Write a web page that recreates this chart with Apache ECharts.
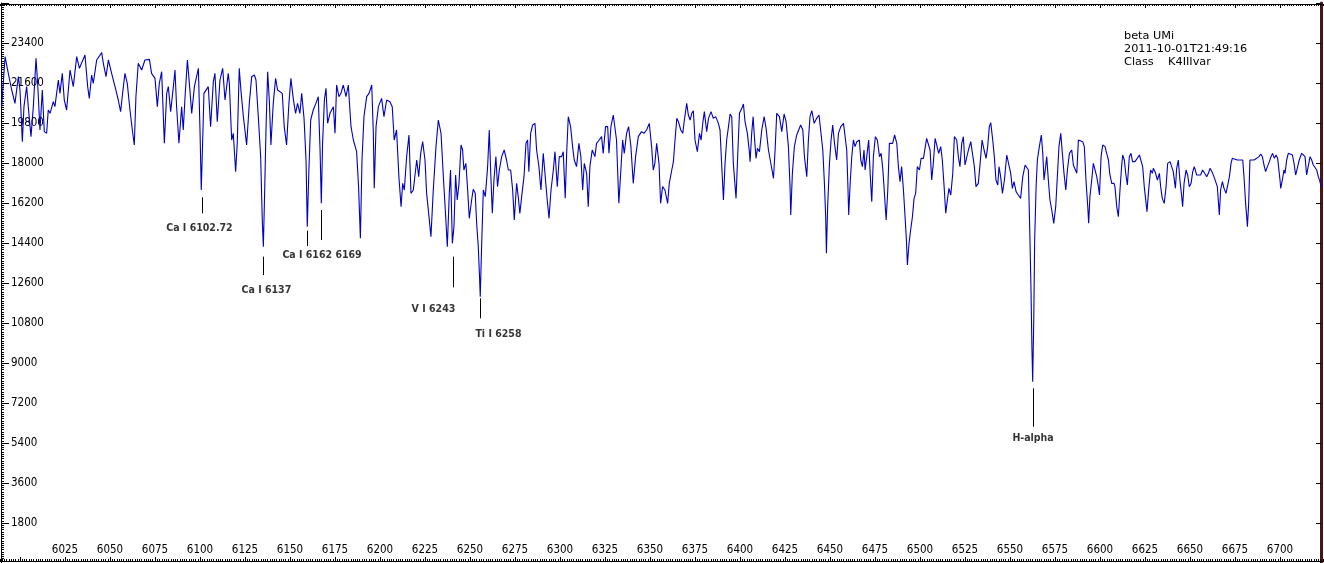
<!DOCTYPE html>
<html>
<head>
<meta charset="utf-8">
<title>beta UMi</title>
<script src="https://cdn.jsdelivr.net/npm/echarts@6/dist/echarts.min.js"></script>
<style>
html, body { margin: 0; padding: 0; background: #fff; }
#chart_box { width: 1324px; height: 563px; }
</style>
</head>
<body>
<div id="chart_box"></div>
<script>
/* wavelength (A), intensity */
var spectrum = [
	[5989.8,20535],[5991.7,22785],[5993.5,22035],[5995.4,21285],[5997.2,20685],[5999.1,21885],[6000.0,21285],[6001.3,18960],
	[6002.2,20535],[6003.7,21435],[6004.6,20535],[6006.1,19185],[6007.4,20535],[6008.9,22710],[6009.8,21585],[6011.1,19485],
	[6012.4,21285],[6013.5,19410],[6014.8,19335],[6015.7,20385],[6016.7,20235],[6018.5,20760],[6019.4,20535],[6021.3,21735],
	[6022.2,21135],[6023.5,22035],[6024.6,20835],[6025.9,20385],[6027.8,22185],[6029.6,21435],[6031.5,22785],[6033.0,22260],
	[6036.1,22860],[6037.6,21435],[6038.5,20910],[6039.8,21960],[6040.7,21585],[6042.6,22635],[6045.4,22965],[6046.3,22485],
	[6047.8,21885],[6049.1,22635],[6050.9,22035],[6052.8,21435],[6054.6,20835],[6055.9,20310],[6057.0,21135],[6058.3,22035],
	[6059.6,21585],[6061.1,20385],[6062.4,19485],[6063.5,18810],[6064.4,20985],[6065.7,22485],[6067.6,22185],[6069.4,22635],
	[6071.9,22665],[6073.1,22035],[6075.0,21810],[6076.3,20535],[6077.4,21585],[6078.7,22110],[6080.2,18885],[6081.5,21135],
	[6082.4,21435],[6083.7,20310],[6085.2,21435],[6086.1,22185],[6087.0,20535],[6088.3,18885],[6089.8,20535],[6090.7,19485],
	[6091.7,20985],[6093.0,22635],[6094.1,21585],[6095.4,20235],[6096.9,21435],[6099.1,22260],[6100.0,19485],[6100.7,16785],
	[6101.5,19035],[6102.2,21135],[6104.6,21435],[6105.9,19635],[6107.4,21660],[6108.3,22035],[6109.6,19860],[6111.1,21735],
	[6112.6,22260],[6113.9,20835],[6115.7,22035],
	[6116.3,21585],[6117.6,19035],[6118.5,19335],[6119.8,17610],[6120.7,18885],[6121.8,22260],[6122.8,21210],[6124.1,20085],
	[6125.9,18810],[6127.4,20685],[6128.7,21885],[6130.2,21960],[6131.1,21735],[6132.4,20085],[6133.7,18285],[6134.6,15435],
	[6135.2,14235],[6135.9,16635],[6136.7,19635],[6137.6,22110],[6138.5,20835],[6139.4,18810],[6140.7,20685],[6142.0,21810],
	[6143.1,21285],[6145.7,21135],[6146.8,19635],[6148.1,18810],[6149.4,20685],[6150.5,21810],[6151.8,20910],[6153.1,20235],
	[6154.2,20685],[6155.5,20235],[6156.5,21135],[6157.8,20010],[6158.9,18135],[6159.6,15135],[6160.5,17685],[6161.5,19935],
	[6162.9,20385],[6164.4,20685],[6165.7,20985],[6166.7,18585],[6167.4,16185],[6168.1,18885],[6169.1,20835],[6170.0,21360],
	[6170.9,19785],[6172.2,20235],[6174.1,20535],[6175.0,19335],[6175.9,21510],[6177.2,20985],[6178.3,21135],[6179.6,21510],
	[6181.1,20985],[6182.4,21510],[6183.9,19635],[6185.2,19035],[6187.0,18510],[6188.1,16935],[6189.1,14610],[6190.0,18135],
	[6191.1,20085],[6192.6,20985],[6193.9,21135],[6195.4,21510],[6196.3,19335],[6196.8,16860],[6197.8,19635],[6199.1,20535],
	[6200.9,20910],[6202.2,20085],[6203.7,20835],[6205.5,20760],[6206.8,20535],[6207.9,19035],[6209.2,19485],[6210.5,17385],
	[6211.7,16035],[6212.6,17085],[6213.5,16785],[6214.8,18285],[6216.1,19260],[6217.2,16635],[6218.5,16785],[6220.4,18135],
	[6221.5,17385],[6222.6,18435],[6223.7,18960],[6225.0,18135],[6225.9,16635],[6227.4,15435],[6228.3,14685],[6229.6,16785],
	[6231.1,18735],[6232.4,19935],[6233.9,19335],[6235.2,17385],[6236.5,15585],[6237.4,14235],[6238.5,16635],
	[6239.2,17685],[6240.2,14385],[6241.1,15135],[6242.0,17460],[6242.9,16335],[6243.9,17085],[6245.0,18810],[6245.9,18585],
	[6246.6,17685],[6247.7,17985],[6248.7,16785],[6249.6,15510],[6250.9,16335],[6251.8,16815],[6252.9,16635],[6253.7,15285],
	[6254.6,14235],[6255.3,12885],[6255.7,11985],[6256.4,14085],[6257.4,16785],[6258.5,16485],[6259.8,17835],[6260.7,19485],
	[6261.6,17385],[6262.4,15735],[6263.3,17235],[6264.4,18285],[6265.3,16935],[6266.3,17685],[6267.6,18285],[6269.0,18585],
	[6270.3,18135],[6271.3,17685],[6272.6,17685],[6273.7,16785],[6274.6,15435],[6275.9,17085],[6276.8,16485],[6277.7,15735],
	[6278.7,16485],[6280.0,17385],[6281.1,18885],[6282.0,19035],[6282.7,17610],[6283.7,19335],[6284.8,19710],[6286.1,19785],
	[6287.0,18585],[6288.3,17835],[6289.4,16785],[6290.7,18435],[6291.8,18435],[6292.9,16335],[6293.9,15510],[6295.0,16785],
	[6296.3,17685],[6297.2,18510],[6298.5,16935],[6299.6,18285],[6300.9,18285],[6301.8,18510],[6302.9,16410],[6303.7,18435],
	[6304.6,20085],[6305.9,19635],[6307.0,18735],[6307.9,18135],[6309.2,17835],[6310.5,18885],[6311.6,18285],[6312.6,16785],
	[6313.5,17985],[6314.8,17535],[6315.7,16035],[6316.6,17835],[6317.9,18585],[6319.4,18285],[6320.3,18885],[6321.8,19035],
	[6323.1,19185],[6324.0,18435],[6325.3,19635],[6326.5,19635],[6327.2,18435],[6328.3,19635],[6329.6,20160],[6330.5,20085],
	[6331.4,19035],[6332.7,16185],[6333.7,17535],[6334.8,19035],[6335.7,18435],[6337.0,19335],[6338.1,19635],[6339.4,18735],
	[6340.7,17085],[6342.0,18285],[6343.5,19185],[6345.3,19410],[6346.6,19335],[6348.1,19485],[6349.6,19785],[6350.9,18735],
	[6351.8,17685],[6352.7,17985],[6353.7,18885],[6355.0,17985],[6355.9,16185],[6357.0,16935],[6358.3,16785],[6359.8,16185],
	[6360.7,17085],
	[6362.1,17685],[6363.0,18060],[6363.9,19035],[6364.9,20010],[6365.8,19860],[6367.1,19485],[6368.2,19335],[6369.1,19935],
	[6370.4,20685],[6371.3,20160],[6372.3,19935],[6373.2,20235],[6374.1,20355],[6375.0,19035],[6376.3,18510],[6377.5,19335],
	[6378.4,19035],[6379.3,19785],[6380.2,20310],[6381.5,19410],[6382.5,20010],[6383.9,20310],[6385.2,20010],[6386.5,20085],
	[6388.0,19785],[6388.9,19485],[6389.7,18135],[6390.8,16335],[6391.7,17985],[6392.6,19035],[6393.6,19635],[6394.5,20205],
	[6395.4,20085],[6396.3,17985],[6397.8,16410],[6398.7,18285],[6399.7,20235],[6401.0,20460],[6401.9,20655],[6402.8,19860],
	[6404.1,19335],[6405.2,18510],[6405.6,18060],[6406.5,19335],[6407.3,20085],[6408.0,19185],[6408.9,18210],[6409.7,18660],
	[6410.8,18510],[6412.1,19485],[6413.4,20085],[6414.5,19560],[6415.8,18585],[6417.3,17910],[6418.6,17310],[6419.5,18585],
	[6420.4,20235],[6421.9,20085],[6423.2,19410],[6424.5,20205],[6425.6,19860],[6426.9,18735],[6427.8,16935],[6428.2,15660],
	[6429.1,17535],[6430.2,18735],[6431.5,19260],[6432.4,19335],[6433.7,19710],[6434.9,19485],[6435.8,18285],[6437.1,17385],
	[6438.0,19035],[6438.9,20085],[6439.9,20355],[6441.2,19785],[6442.6,20010],[6443.9,20160],[6445.0,20235],[6446.0,18585],
	[6446.9,17085],[6447.6,15585],[6448.0,13935],[6448.7,16035],[6449.7,17985],[6450.6,19035],[6451.5,19710],[6452.5,18885],
	[6453.7,18135],[6454.7,19335],[6456.0,19635],[6457.5,19785],[6458.4,19815],[6459.3,18585],[6459.9,17085],[6460.4,15660],
	[6461.2,17085],[6462.1,18285],[6463.0,19035],[6463.9,18735],[6464.9,18960],[6466.3,19035],[6467.1,18135],[6468.0,17835],
	[6468.9,18585],[6469.5,17685],[6470.4,18285],[6471.5,19035],[6472.3,17535],[6473.2,16260],[6474.1,18285],[6475.2,19185],
	[6476.3,19035],[6477.5,18285],[6478.4,18435],[6479.3,17760],[6480.0,16935],[6481.2,15435],[6482.1,16785],[6483.0,18885],
	[6483.9,18960],[6484.8,18885],[6485.9,19260],[6487.1,18885],[6488.0,17835],[6488.9,17160],[6489.8,17835],[6490.8,16785],
	[6491.7,15585],[6492.4,14610],[6493.0,13410],[6493.9,14385],[6494.8,14985],[6495.8,15585],[6496.7,16410],[6497.6,16635],
	[6498.5,17835],[6499.7,17685],[6500.6,18210],[6501.9,18210],[6502.8,18660],[6503.7,19110],[6504.7,19185],[6505.6,18585],
	[6506.5,17235],[6507.4,17985],[6508.4,19110],[6509.3,19110],[6510.4,18435],[6511.5,18735],[6512.4,18135],[6513.4,16935],
	[6514.3,15735],[6515.2,16335],[6516.1,16860],[6517.1,16560],[6518.2,17535],[6519.1,19185],[6520.4,19035],[6521.3,18285],
	[6522.2,17835],[6523.2,18885],[6524.1,19185],[6525.0,17910],[6525.9,17910],[6526.9,18585],[6528.2,18960],[6529.3,18960],
	[6530.2,17835],[6531.1,16935],[6532.4,17085],[6533.4,17985],[6534.5,19035],[6535.6,18585],[6536.7,18210],[6537.6,18735],
	[6538.5,19635],[6539.3,19815],[6540.4,19035],[6541.3,18285],[6542.2,17235],[6543.2,17010],[6543.9,17835],[6544.8,17385],
	[6545.8,16635],[6546.9,17235],[6548.2,18360],[6549.3,18360],[6550.4,17535],[6551.3,16860],[6552.2,17160],[6553.4,16710],
	[6554.6,16560],[6555.9,16410],[6557.1,17385],[6558.4,17910],[6559.3,17985],[6560.2,17685],[6561.1,14535],[6561.7,12135],
	[6562.2,9585],[6562.6,8160],[6563.2,10935],[6563.7,14535],[6564.5,16935],[6565.2,18135],[6566.3,18735],[6567.4,19260],
	[6568.2,18435],[6568.9,17235],[6569.8,17835],[6570.4,18285],[6571.3,17235],[6572.2,16335],[6573.2,15885],[6574.3,15285],
	[6575.4,16035],[6576.3,17385],[6577.2,18735],[6578.2,19335],[6579.1,18435],[6580.0,17535],[6581.0,16785],[6581.9,17685],
	[6583.0,18435],[6584.3,18585],[6585.2,17910],[6586.1,17835],[6587.1,17535],[6588.0,19035],[6588.9,19110],[6590.4,18960],
	[6591.3,18735],[6592.2,17235],[6593.2,16035],[6593.7,15285],[6594.4,16485],[6595.4,17235],[6596.3,17985],[6597.2,18060],
	[6598.2,17385],[6599.1,16935],[6599.7,16560],[6600.6,18285],[6601.5,18810],[6602.8,18735],[6603.7,18435],[6604.7,18135],
	[6605.4,17535],
	[6606.5,17085],[6607.8,17085],[6608.3,16935],[6609.3,16035],[6610.2,15585],[6611.1,16785],[6612.0,17835],[6612.6,18360],
	[6613.5,18135],[6614.3,17535],[6615.2,17010],[6616.3,18285],[6617.2,18435],[6618.1,18060],[6619.4,18060],[6620.7,18210],
	[6621.9,18360],[6622.8,18435],[6623.7,17835],[6624.6,16935],[6625.6,16185],[6626.1,15810],[6627.2,16935],[6628.1,17685],
	[6629.1,17535],[6629.6,17760],[6630.6,17610],[6631.9,17235],[6633.0,17535],[6633.7,16935],[6634.6,16410],[6635.7,16185],
	[6636.7,16935],[6637.6,17985],[6638.9,18060],[6639.8,17985],[6640.7,17610],[6641.9,16860],[6642.6,17760],[6643.5,18135],
	[6644.4,17235],[6645.4,16485],[6645.9,16035],[6646.7,17085],[6647.8,17685],[6648.7,17460],[6649.6,16935],[6650.6,17085],
	[6651.5,17610],[6652.4,17835],[6653.7,17460],[6654.8,17535],[6655.9,17460],[6657.0,17685],[6658.0,17685],[6659.3,17385],
	[6660.2,17535],[6661.1,17760],[6662.2,17610],[6663.3,17385],[6664.4,17310],[6665.2,16935],[6665.9,16110],[6666.3,15660],
	[6667.0,16785],[6668.0,17160],[6668.9,16860],[6670.0,16635],[6670.9,16710],[6671.9,17385],[6672.8,17985],[6673.5,18210],
	[6675.0,18165],[6676.3,18135],[6677.8,18135],[6679.3,18135],[6680.0,17385],[6680.9,16185],[6681.5,15585],[6681.9,15135],
	[6682.6,16185],[6683.3,18135],[6684.3,18060],[6685.6,18135],[6687.0,18210],[6688.3,18285],[6689.3,18405],[6690.2,18285],
	[6691.1,17910],[6692.0,17610],[6693.0,17835],[6694.1,18060],[6695.0,18285],[6695.9,18435],[6696.9,18210],[6697.8,18360],
	[6698.7,18210],[6699.6,18135],[6700.0,17235],[6700.4,16860],[6701.3,17235],[6702.2,17685],[6702.8,17535],[6703.7,18135],
	[6704.6,18435],[6705.6,18480],[6706.9,18360],[6707.8,17985],[6708.7,17460],[6709.6,17760],[6710.7,18135],[6712.0,18435],
	[6713.0,18510],[6713.9,18285],[6714.8,17460],[6715.7,17460],[6716.7,18285],[6717.6,18135],[6718.5,17910],[6719.4,17835],
	[6720.4,17685],[6721.3,17385],[6722.2,17160],[6722.8,16935]
];

/* tick labels */
var xTicks = [6025,6050,6075,6100,6125,6150,6175,6200,6225,6250,6275,6300,6325,6350,6375,6400,6425,6450,6475,6500,6525,6550,6575,6600,6625,6650,6675,6700];
var yTicks = [1800,3600,5400,7200,9000,10800,12600,14400,16200,18000,19800,21600,23400];

/* line identification markers: wavelength, top and bottom of tick */
var markWave = [6101.1, 6135.2, 6159.6, 6167.4, 6240.7, 6255.7, 6562.9];
var markTop = [16455, 13785, 14955, 15885, 13785, 11910, 7860];
var markBottom = [15735, 12960, 14265, 14535, 12405, 11010, 6135];

/* marker labels */
var labelNames = ['Ca I 6102.72', 'Ca I 6137', 'Ca I 6162 6169', 'V I 6243', 'Ti I 6258', 'H-alpha'];
var labelWave = [6099.7, 6136.9, 6167.8, 6229.7, 6265.8, 6562.8];
var labelFlux = [15060, 12285, 13860, 11430, 10305, 5610];

var titleLines = ['beta UMi', '2011-10-01T21:49:16', 'Class    K4IIIvar'];

var axisFont = "'DejaVu Sans Condensed', 'DejaVu Sans', sans-serif";

var myChart = echarts.init(document.getElementById('chart_box'));

var frameX = function(pos, off, showLabel) {
	return {
		type: 'value',
		position: pos,
		offset: off,
		min: 5975,
		max: 6725,
		interval: 25,
		axisLine: { show: true, onZero: false, lineStyle: { color: '#000', width: 1 } },
		axisTick: { show: true, inside: true, length: 4, lineStyle: { color: '#000' } },
		minorTick: { show: true, splitNumber: 20, length: 2, lineStyle: { color: '#000' } },
		splitLine: { show: false },
		minorSplitLine: { show: false },
		axisLabel: {
			show: showLabel,
			inside: true,
			margin: 5,
			color: '#000',
			fontSize: 11.5,
			fontFamily: axisFont,
			formatter: function(v) { return xTicks.indexOf(v) >= 0 ? String(v) : ''; }
		}
	};
};

var option = {
	animation: false,
	backgroundColor: '#fff',
	title: {
		text: titleLines.join('\n'),
		left: 1124,
		top: 30,
		padding: 0,
		textStyle: { fontSize: 11.3, fontWeight: 'normal', lineHeight: 13, color: '#000', fontFamily: "'DejaVu Sans', sans-serif" }
	},
	grid: { left: -25, right: -1, top: 3, bottom: 0, outerBoundsMode: 'none' },
	xAxis: [frameX('bottom', -2, true), frameX('top', -1, false)],
	yAxis: [{
		type: 'value',
		position: 'left',
		offset: -26,
		min: 0,
		max: 25200,
		interval: 1800,
		axisLine: { show: true, onZero: false, lineStyle: { color: '#000', width: 1 } },
		axisTick: { show: true, inside: true, length: 8, lineStyle: { color: '#000' } },
		minorTick: { show: true, splitNumber: 18, length: 3, lineStyle: { color: '#000' } },
		splitLine: { show: false },
		axisLabel: {
			inside: true,
			margin: 10,
			color: '#000',
			fontSize: 11.5,
			fontFamily: axisFont,
			formatter: function(v) { return yTicks.indexOf(v) >= 0 ? String(v) : ''; }
		}
	}, {
		type: 'value',
		position: 'right',
		offset: -4,
		min: 0,
		max: 25200,
		interval: 1800,
		axisLine: { show: true, onZero: false, lineStyle: { color: '#4a1414', width: 3 } },
		axisTick: { show: true, inside: true, length: 5, lineStyle: { color: '#000' } },
		splitLine: { show: false },
		axisLabel: { show: false }
	}],
	series: [{
		name: 'spectrum',
		type: 'line',
		data: spectrum,
		showSymbol: false,
		symbol: 'none',
		silent: true,
		lineStyle: { color: '#0000c0', width: 1.1 },
		markLine: {
			silent: true,
			symbol: ['none', 'none'],
			label: { show: false },
			lineStyle: { color: '#000', width: 1, type: 'solid' },
			data: markWave.map(function(w, i) {
				return [{ coord: [w, markTop[i]] }, { coord: [w, markBottom[i]] }];
			})
		}
	}, {
		name: 'labels',
		type: 'scatter',
		silent: true,
		symbolSize: 1,
		itemStyle: { color: 'rgba(0,0,0,0)' },
		data: labelWave.map(function(w, i) { return [w, labelFlux[i]]; }),
		label: {
			show: true,
			position: 'inside',
			color: '#000',
			fontSize: 10.5,
			fontWeight: 'bold',
			fontFamily: axisFont,
			formatter: function(p) { return labelNames[p.dataIndex]; }
		}
	}]
};
myChart.setOption(option);
</script>
</body>
</html>
